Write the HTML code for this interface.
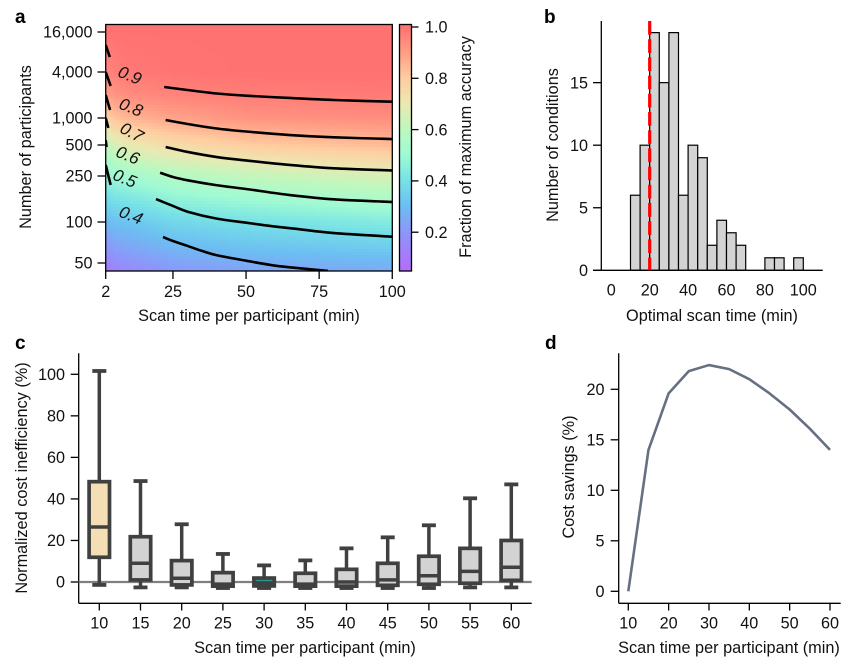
<!DOCTYPE html>
<html>
<head>
<meta charset="utf-8">
<style>
html,body{margin:0;padding:0;background:#fff;width:866px;height:665px;overflow:hidden}
svg{display:block}
text{font-family:"Liberation Sans",sans-serif;font-size:16.2px;fill:#111}
.letter{font-weight:bold;font-size:19px;fill:#000}
</style>
</head>
<body>
<svg id="chart" xmlns="http://www.w3.org/2000/svg" width="866" height="665" viewBox="0 0 866 665">
  <defs>
    <clipPath id="plotClip"><rect x="105.7" y="24.5" width="286.6" height="246.5"/></clipPath>
    <clipPath id="barClip"><rect x="399.5" y="24.5" width="12" height="246.5"/></clipPath>
  </defs>
  <g id="panelA">
    <g id="heatmap" clip-path="url(#plotClip)"></g>
    <g id="contours" clip-path="url(#plotClip)"></g>
    <rect x="105.7" y="24.5" width="286.6" height="246.5" fill="none" stroke="#000" stroke-width="1.3"/>
    <g id="colorbar" clip-path="url(#barClip)"></g>
    <rect x="399.5" y="24.5" width="12" height="246.5" fill="none" stroke="#000" stroke-width="1.3"/>
    <g id="axesA"></g>
    <text class="letter" x="15" y="23">a</text>
    <text style="font-size:16.3px" x="249" y="321" text-anchor="middle">Scan time per participant (min)</text>
    <text style="font-size:16.3px" transform="translate(31,147) rotate(-90)" text-anchor="middle">Number of participants</text>
    <text style="font-size:16.3px" transform="translate(471,147) rotate(-90)" text-anchor="middle">Fraction of maximum accuracy</text>
  </g>
  <g id="panelB">
    <g id="bars"></g>
    <g id="axesB"></g>
    <text class="letter" x="544" y="23">b</text>
    <text style="font-size:16.3px" x="712" y="321" text-anchor="middle">Optimal scan time (min)</text>
    <text style="font-size:16.3px" transform="translate(558,145) rotate(-90)" text-anchor="middle">Number of conditions</text>
  </g>
  <g id="panelC">
    <g id="axesC"></g>
    <g id="boxes"></g>
    <text class="letter" x="15" y="349">c</text>
    <text style="font-size:16.3px" x="305" y="653" text-anchor="middle">Scan time per participant (min)</text>
    <text style="font-size:16.3px" transform="translate(27,478) rotate(-90)" text-anchor="middle">Normalized cost inefficiency (%)</text>
  </g>
  <g id="panelD">
    <g id="axesD"></g>
    <g id="lineD"></g>
    <text class="letter" x="545" y="349">d</text>
    <text style="font-size:16.3px" x="729" y="653" text-anchor="middle">Scan time per participant (min)</text>
    <text style="font-size:16.3px" transform="translate(574,477) rotate(-90)" text-anchor="middle">Cost savings (%)</text>
  </g>
</svg>
<script>
/* ---------- panel a data ---------- */
const aXTicks = [2, 25, 50, 75, 100];
const aYTicks = [16000, 4000, 1000, 500, 250, 100, 50];
const aYTickLabels = ['16,000', '4,000', '1,000', '500', '250', '100', '50'];
const cbTicks = [1.0, 0.8, 0.6, 0.4, 0.2];
const cbTickLabels = ['1.0', '0.8', '0.6', '0.4', '0.2'];

const heatTimes = [2, 5, 10, 25, 50, 100];
const heatParticipants = [16000, 4000, 2000, 1000, 500, 250, 100, 50, 42];
const heatT2 = [1, .95, .90, .78, .60, .47, .29, .13, .07];
const heatT5 = [1, .97, .92, .82, .65, .50, .31, .17, .12];
const heatT10 = [1, .985, .94, .85, .70, .52, .32, .19, .16];
const heatT25 = [1, .995, .96, .89, .75, .57, .37, .23, .20];
const heatT50 = [1, 1, .975, .925, .80, .61, .40, .26, .22];
const heatT100 = [1, 1, .98, .94, .84, .66, .44, .28, .25];
const heatColumns = [heatT2, heatT5, heatT10, heatT25, heatT50, heatT100];

const contourLevels = ['0.9', '0.8', '0.7', '0.6', '0.5', '0.4'];
const contourLeftTimes = [[2, 3.4], [2, 3.7], [2, 3.5], [2, 2.9], [2, 2.3], [2, 3.7]];
const contourLeftParticipants = [[10200, 6720], [4000, 2625], [2000, 1274], [1000, 774], [568, 478], [320, 209]];
const contourTimes = [
  [22, 30, 40, 50, 65, 80, 100],
  [22.5, 30, 40, 50, 65, 80, 100],
  [22.5, 30, 40, 50, 65, 80, 100],
  [20.6, 25, 30, 40, 50, 65, 80, 100],
  [19.2, 25, 30, 40, 50, 59.2, 68.4, 80, 100],
  [21.6, 25, 30, 35, 40, 50, 60, 70, 78]
];
const contourParticipants = [
  [2545, 2325, 2092, 1958, 1828, 1720, 1634],
  [950, 857, 764, 707, 646, 609, 583],
  [478, 428, 382, 354, 320, 297, 283],
  [269, 245, 229.5, 208, 193, 171, 157, 149],
  [158, 137.6, 122.8, 106.9, 98.8, 93, 88.4, 83, 78],
  [77.6, 72.5, 66.7, 61.2, 57, 52, 47.8, 45.4, 43.7]
];
const contourLabelTimes = [10.3, 10.7, 11, 9.6, 8.6, 10.7];
const contourLabelParticipants = [3648, 1393, 698, 400, 240, 115];

/* ---------- panel b data ---------- */
const histBinStarts = [10, 15, 20, 25, 30, 35, 40, 45, 50, 55, 60, 65, 70, 75, 80, 85, 90, 95];
const histCounts = [6, 10, 19, 15, 19, 6, 10, 9, 2, 4, 3, 2, 0, 0, 1, 1, 0, 1];
const bXTicks = [0, 20, 40, 60, 80, 100];
const bYTicks = [0, 5, 10, 15];
const optimalTime = 20;

/* ---------- panel c data ---------- */
const boxTimes = [10, 15, 20, 25, 30, 35, 40, 45, 50, 55, 60];
const boxWhiskerHigh = [101.6, 48.6, 27.8, 13.5, 8, 10.4, 16.2, 21.5, 27.3, 40.3, 47];
const boxQ3 = [48.3, 21.8, 10.3, 4.5, 1.9, 4.2, 6.1, 9, 12.4, 16.2, 20];
const boxMedian = [26.5, 9, 1.8, -1, -0.4, -1, 0, 1, 3, 5.1, 7.1];
const boxQ1 = [11.9, 1, -1.4, -2, -1.9, -2, -2, -1.6, -1.1, -0.6, 0.8];
const boxWhiskerLow = [-1.4, -2.6, -2.6, -2.9, -2.9, -2.9, -2.9, -2.9, -2.9, -2.6, -2.6];
const cYTicks = [0, 20, 40, 60, 80, 100];

/* ---------- panel d data ---------- */
const savingsTimes = [10, 15, 20, 25, 30, 35, 40, 45, 50, 55, 60];
const savingsValues = [0, 14, 19.6, 21.8, 22.4, 22, 21, 19.6, 18, 16.1, 14];
const dXTicks = [10, 20, 30, 40, 50, 60];
const dYTicks = [0, 5, 10, 15, 20];

/* ---------- colour scale ---------- */
const colorStopValues = [0.05, 0.2, 0.3, 0.4, 0.5, 0.6, 0.7, 0.8, 0.9, 1.0];
const colorStopReds = [180, 140, 108, 118, 158, 190, 235, 255, 255, 255];
const colorStopGreens = [108, 150, 190, 225, 250, 248, 232, 205, 158, 114];
const colorStopBlues = [252, 250, 242, 230, 212, 190, 178, 160, 134, 114];

/* ---------- scales ---------- */
function xA(t) { return 105.7 + (t - 2) * 2.924; }
function yA(n) {
  const anchors = [[16000, 32], [4000, 72], [1000, 118], [500, 145], [250, 176], [100, 222], [50, 263]];
  let i = 0;
  while (i < anchors.length - 2 && n < anchors[i + 1][0]) i++;
  const a = anchors[i], b = anchors[i + 1];
  return a[1] + (Math.log(n) - Math.log(a[0])) / (Math.log(b[0]) - Math.log(a[0])) * (b[1] - a[1]);
}
function yCb(v) { return 27 + (1 - v) * 256.5; }
function xB(v) { return 611.3 + v * 1.92; }
function yB(v) { return 270.3 - v * 12.51; }
function xC(t) { return 99.3 + (t - 10) * 8.24; }
function yC(v) { return 582 - v * 2.077; }
function xD(t) { return 628.3 + (t - 10) * 4.034; }
function yD(v) { return 591.3 - v * 10.1; }

const NS = 'http://www.w3.org/2000/svg';
function make(tag, parentId, props) {
  const e = document.createElementNS(NS, tag);
  for (const k in props) e.setAttribute(k, props[k]);
  document.getElementById(parentId).appendChild(e);
  return e;
}
function lerp(a, b, f) { return a + (b - a) * f; }
function colorFor(v) {
  const c = Math.max(colorStopValues[0], Math.min(1, v));
  let i = 0;
  while (i < colorStopValues.length - 2 && c > colorStopValues[i + 1]) i++;
  const f = (c - colorStopValues[i]) / (colorStopValues[i + 1] - colorStopValues[i]);
  const r = Math.round(lerp(colorStopReds[i], colorStopReds[i + 1], f));
  const g = Math.round(lerp(colorStopGreens[i], colorStopGreens[i + 1], f));
  const b = Math.round(lerp(colorStopBlues[i], colorStopBlues[i + 1], f));
  return 'rgb(' + r + ',' + g + ',' + b + ')';
}
function smoothPath(pts) {
  let d = 'M' + pts[0][0].toFixed(2) + ' ' + pts[0][1].toFixed(2);
  for (let i = 0; i < pts.length - 1; i++) {
    const p0 = pts[Math.max(0, i - 1)], p1 = pts[i], p2 = pts[i + 1], p3 = pts[Math.min(pts.length - 1, i + 2)];
    const c1x = p1[0] + (p2[0] - p0[0]) / 6, c1y = p1[1] + (p2[1] - p0[1]) / 6;
    const c2x = p2[0] - (p3[0] - p1[0]) / 6, c2y = p2[1] - (p3[1] - p1[1]) / 6;
    d += 'C' + c1x.toFixed(2) + ' ' + c1y.toFixed(2) + ' ' + c2x.toFixed(2) + ' ' + c2y.toFixed(2) + ' ' + p2[0].toFixed(2) + ' ' + p2[1].toFixed(2);
  }
  return d;
}
function segmentIndex(list, v) {
  let i = 0;
  while (i < list.length - 2 && v > list[i + 1]) i++;
  return i;
}
function tickLine(parentId, x1, y1, x2, y2) {
  const l = make('line', parentId, { x1: x1, y1: y1, x2: x2, y2: y2, stroke: '#000', 'stroke-width': 1.3 });
  
  
  return l;
}
function tickText(parentId, x, y, anchor, label) {
  const t = make('text', parentId, { x: x, y: y, 'text-anchor': anchor });
  t.textContent = label;
  
  
  return t;
}
function axisLine(parentId, x1, y1, x2, y2) {
  const l = make('line', parentId, { x1: x1, y1: y1, x2: x2, y2: y2, stroke: '#000', 'stroke-width': 1.3 });
  
  
  return l;
}

/* ---------- heatmap ---------- */
const heatRowY = heatParticipants.map(yA);
const heatColX = heatTimes.map(xA);
for (let py = 24; py < 271; py += 3) {
  for (let px = 105; px < 392; px += 3) {
    const cx = px + 1.5, cy = py + 1.5;
    const ci = segmentIndex(heatColX, cx), ri = segmentIndex(heatRowY, cy);
    const fx = Math.max(0, Math.min(1, (cx - heatColX[ci]) / (heatColX[ci + 1] - heatColX[ci])));
    const fy = Math.max(0, Math.min(1, (cy - heatRowY[ri]) / (heatRowY[ri + 1] - heatRowY[ri])));
    const v = lerp(lerp(heatColumns[ci][ri], heatColumns[ci + 1][ri], fx), lerp(heatColumns[ci][ri + 1], heatColumns[ci + 1][ri + 1], fx), fy);
    const cell = make('rect', 'heatmap', { x: px, y: py, width: 3, height: 3, fill: colorFor(v), 'shape-rendering': 'crispEdges' });
    
    
  }
}
/* ---------- contours ---------- */
contourLevels.forEach(function (level, i) {
  const leftPts = contourLeftTimes[i].map(function (t, j) { return [xA(t), yA(contourLeftParticipants[i][j])]; });
  const left = make('path', 'contours', { d: smoothPath(leftPts), fill: 'none', stroke: '#000', 'stroke-width': 2.6 });
  
  
  const mainPts = contourTimes[i].map(function (t, j) { return [xA(t), yA(contourParticipants[i][j])]; });
  const main = make('path', 'contours', { d: smoothPath(mainPts), fill: 'none', stroke: '#000', 'stroke-width': 2.6 });
  
  
  const lx = xA(contourLabelTimes[i]), ly = yA(contourLabelParticipants[i]);
  const lab = make('text', 'contours', { x: lx, y: ly + 6, 'text-anchor': 'middle', 'font-style': 'italic', style: 'font-size:17px', transform: 'rotate(' + (i === 2 ? 28 : 22) + ' ' + lx + ' ' + ly + ')' });
  lab.textContent = level;
  
  
});
/* ---------- colorbar ---------- */
for (let py = 24; py < 271; py += 2) {
  const seg = make('rect', 'colorbar', { x: 400, y: py, width: 11, height: 2, fill: colorFor(1 - (py + 1 - 27) / 256.5), 'shape-rendering': 'crispEdges' });
  
  
}
/* ---------- axes a ---------- */
aXTicks.forEach(function (t) {
  tickLine('axesA', xA(t), 271, xA(t), 279);
  tickText('axesA', xA(t), 297, 'middle', String(t));
});
aYTicks.forEach(function (n, i) {
  tickLine('axesA', 97.5, yA(n), 105.7, yA(n));
  tickText('axesA', 92.5, yA(n) + 5.7, 'end', aYTickLabels[i]);
});
cbTicks.forEach(function (v, i) {
  tickLine('axesA', 411.5, yCb(v), 418.5, yCb(v));
  tickText('axesA', 425, yCb(v) + 5.7, 'start', cbTickLabels[i]);
});
/* ---------- panel b ---------- */
histBinStarts.forEach(function (s, i) {
  if (histCounts[i] === 0) return;
  const bar = make('rect', 'bars', { x: xB(s), y: yB(histCounts[i]), width: xB(s + 5) - xB(s), height: yB(0) - yB(histCounts[i]), fill: '#d3d3d3', stroke: '#000', 'stroke-width': 1.2 });
  
  
});
axisLine('axesB', 601.3, 21, 601.3, 270.3);
axisLine('axesB', 593, 270.3, 822.7, 270.3);
bYTicks.forEach(function (v) {
  tickLine('axesB', 593, yB(v), 601.3, yB(v));
  tickText('axesB', 588, yB(v) + 5.7, 'end', String(v));
});
bXTicks.forEach(function (v) {
  tickText('axesB', xB(v), 295.5, 'middle', String(v));
});
const redLine = make('line', 'axesB', { x1: xB(optimalTime), y1: 21, x2: xB(optimalTime), y2: 270.3, stroke: '#ff0000', 'stroke-width': 3.2, 'stroke-dasharray': '13.7 4.5' });


/* ---------- panel c ---------- */
axisLine('axesC', 78.7, 353.3, 78.7, 603.3);
axisLine('axesC', 78.7, 603.3, 531.7, 603.3);
cYTicks.forEach(function (v) {
  tickLine('axesC', 70.7, yC(v), 78.7, yC(v));
  tickText('axesC', 65, yC(v) + 5.7, 'end', String(v));
});
boxTimes.forEach(function (t) {
  tickLine('axesC', xC(t), 603.3, xC(t), 610.5);
  tickText('axesC', xC(t), 628.5, 'middle', String(t));
});
const zeroLine = make('line', 'axesC', { x1: 78.7, y1: yC(0), x2: 531.7, y2: yC(0), stroke: '#808080', 'stroke-width': 2.2 });


const BOX_DARK = '#404040';
boxTimes.forEach(function (t, i) {
  const cx = xC(t);
  const whisker = make('line', 'boxes', { x1: cx, x2: cx, y1: yC(boxWhiskerHigh[i]), y2: yC(boxWhiskerLow[i]), stroke: BOX_DARK, 'stroke-width': 3.5 });
  
  
  const capHigh = make('line', 'boxes', { x1: cx - 7, x2: cx + 7, y1: yC(boxWhiskerHigh[i]), y2: yC(boxWhiskerHigh[i]), stroke: BOX_DARK, 'stroke-width': 3.8 });
  
  
  const capLow = make('line', 'boxes', { x1: cx - 7, x2: cx + 7, y1: yC(boxWhiskerLow[i]), y2: yC(boxWhiskerLow[i]), stroke: BOX_DARK, 'stroke-width': 3.8 });
  
  
  const fill = t === 10 ? '#f5deb3' : (t === 30 ? '#2a9d8f' : '#d3d3d3');
  const box = make('rect', 'boxes', { x: cx - 10.2, width: 20.4, y: yC(boxQ3[i]), height: yC(boxQ1[i]) - yC(boxQ3[i]), fill: fill, stroke: BOX_DARK, 'stroke-width': 3.7 });
  
  
  const med = make('line', 'boxes', { x1: cx - 10.2, x2: cx + 10.2, y1: yC(boxMedian[i]), y2: yC(boxMedian[i]), stroke: BOX_DARK, 'stroke-width': 3.5 });
  
  
});
/* ---------- panel d ---------- */
axisLine('axesD', 618.7, 353.3, 618.7, 603.3);
axisLine('axesD', 618.7, 603.3, 840.7, 603.3);
dYTicks.forEach(function (v) {
  tickLine('axesD', 610.7, yD(v), 618.7, yD(v));
  tickText('axesD', 604.5, yD(v) + 5.7, 'end', String(v));
});
dXTicks.forEach(function (t) {
  tickLine('axesD', xD(t), 603.3, xD(t), 610.5);
  tickText('axesD', xD(t), 628.5, 'middle', String(t));
});
const savingsPoints = savingsTimes.map(function (t, i) { return xD(t).toFixed(2) + ',' + yD(savingsValues[i]).toFixed(2); }).join(' ');
const savingsLine = make('polyline', 'lineD', { points: savingsPoints, fill: 'none', stroke: '#667080', 'stroke-width': 2.6, 'stroke-linejoin': 'round' });


</script>
</body>
</html>
